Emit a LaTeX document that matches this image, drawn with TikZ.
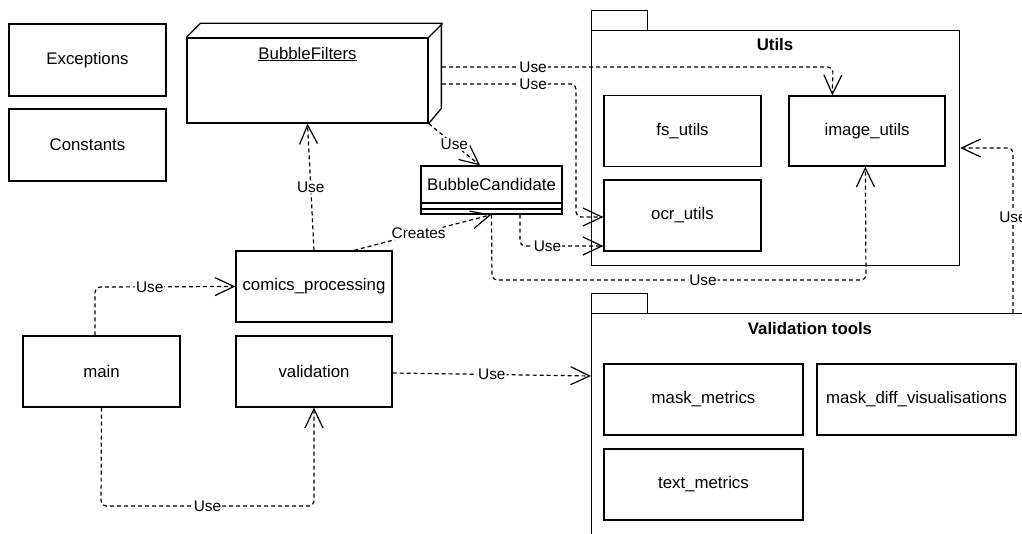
\documentclass[tikz,border=0pt]{standalone}
\usepackage{fontspec}
\setmainfont{Liberation Sans}
\usetikzlibrary{arrows.meta}
\newcommand\bxfont{\fontsize{16.8pt}{20pt}\selectfont}
\newcommand\lbfont{\fontsize{15.4pt}{18pt}\selectfont}
\begin{document}
\begin{tikzpicture}[x=1pt,y=-1pt,
  box/.style={draw, line width=1.3pt, minimum width=157pt, minimum height=71pt, inner sep=0pt, font=\bxfont},
  pkg/.style={draw, line width=1.3pt, inner sep=0pt, anchor=north west},
  dep/.style={line width=1.2pt, dash pattern=on 4pt off 3pt, rounded corners=5pt,
    -{Straight Barb[length=19pt,width=18pt,line width=1.2pt]}},
  lbl/.style={fill=white, inner sep=1pt, font=\lbfont},
]
\useasboundingbox (0,0) rectangle (1022,534);
\clip (0,0) rectangle (1022,534);

% --- plain module boxes -------------------------------------------------
\node[box, minimum height=72pt] (exc) at (87.5,60) {Exceptions};
\node[box, minimum height=72pt] (con) at (87.5,145) {Constants};
\node[box] (main) at (101.5,371.5) {main};
\node[box, minimum width=156pt] (cp) at (314,286.5) {comics\_processing};
\node[box, minimum width=156pt] (val) at (314,371.5) {validation};

% --- BubbleFilters (3D node) --------------------------------------------
\node[draw, line width=1.3pt, minimum width=241pt, minimum height=85pt, inner sep=0pt] (bf) at (307.5,80.5) {};
\node[font=\bxfont] (bftitle) at (307.5,54) {\underline{BubbleFilters}};
\draw[line width=1.3pt, line join=miter] (bf.north west) -- ++(14,-14) -- ++(241,0) -- ++(0,85) -- (bf.south east);
\draw[line width=1.3pt] (bf.north east) -- ++(14,-14);
\coordinate (bfs1) at (442,67);
\coordinate (bfs2) at (442,84);

% --- BubbleCandidate class ----------------------------------------------
\node[draw, line width=1.3pt, minimum width=141pt, minimum height=48pt, inner sep=0pt] (bc) at (491.5,190) {};
\node[font=\bxfont] (bctitle) at (491.5,184.5) {BubbleCandidate};
\draw[line width=1.3pt] (421,203) -- (562,203) (421,209) -- (562,209);

% --- Utils package ------------------------------------------------------
\node[pkg, minimum width=56pt, minimum height=20pt] (utab) at (591,10) {};
\node[pkg, minimum width=368pt, minimum height=235pt] (utils) at (591,30) {};
\node[font=\bxfont\bfseries] (utilsname) at (775,44) {Utils};
\node[box] (fs) at (682.5,131) {fs\_utils};
\node[box, minimum width=156pt, minimum height=70pt] (img) at (867,131) {image\_utils};
\node[box] (ocr) at (682.5,215.5) {ocr\_utils};

% --- Validation tools package -------------------------------------------
\node[pkg, minimum width=56pt, minimum height=20pt] (vtab) at (591,293) {};
\node[pkg, minimum width=438pt, minimum height=260pt] (vt) at (591,313) {};
\node[font=\bxfont\bfseries] (vtname) at (810,328) {Validation tools};
\node[box, minimum width=199pt] (mm) at (703.5,399.5) {mask\_metrics};
\node[box, minimum width=199pt] (md) at (916.5,399.5) {mask\_diff\_visualisations};
\node[box, minimum width=199pt] (tm) at (703.5,484.5) {text\_metrics};

% --- dependencies -------------------------------------------------------
\draw[dep] (bfs1) -- node[lbl,pos=0.233]{Use} (833,67) -- ([xshift=44pt]img.north west);
\draw[dep] (bfs2) -- node[lbl,pos=0.68]{Use} (576,84) -- (576,217) -- ([yshift=-1.5pt]ocr.west);
\draw[dep] (bf.south east) -- node[lbl]{Use} ([xshift=-11.5pt]bc.north);
\draw[dep] (cp.north) -- node[lbl]{Use} (bf.south);
\draw[dep] ([xshift=40pt]cp.north) -- node[lbl,pos=0.47]{Creates} (bc.south);
\draw[dep] ([xshift=28.5pt]bc.south) -- (520,246) -- node[lbl,pos=0.33]{Use} ([yshift=-30.5pt]ocr.west);
\draw[dep] (bc.south) -- (492,280) -- node[lbl,pos=0.564]{Use} (866,280) -- ([xshift=77pt]img.south west);
\draw[dep] ([xshift=422pt]vt.north west) -- node[lbl,pos=0.58]{Use} (1013,148) -- ([yshift=-118pt]utils.north east);
\draw[dep] ([xshift=-6.5pt]main.north) -- (95,287) -- node[lbl,pos=0.39]{Use} (cp.west);
\draw[dep] (main.south) -- (101,506) -- node[lbl]{Use} (314,506) -- (val.south);
\draw[dep] ([yshift=-1.5pt]val.east) -- node[lbl]{Use} ([yshift=-63pt]vt.north west);
\end{tikzpicture}
\end{document}
